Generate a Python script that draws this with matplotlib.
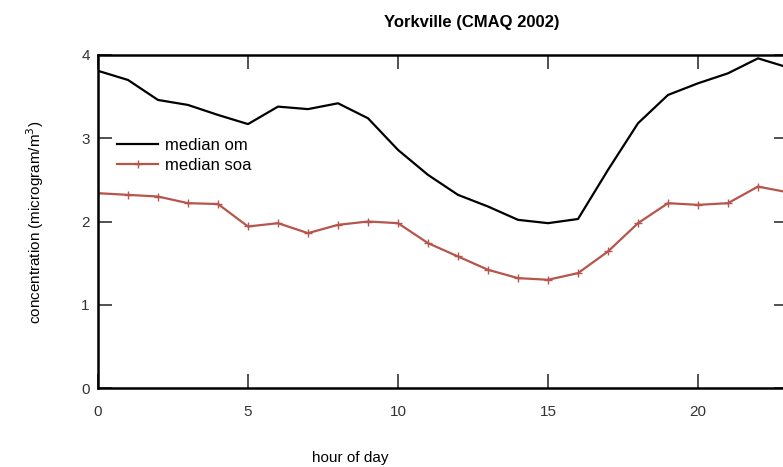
import matplotlib
matplotlib.use("Agg")
import matplotlib.pyplot as plt

# horas do dia e medianas
hours = list(range(24))
median_om = [3.81, 3.70, 3.46, 3.40, 3.28, 3.17, 3.38, 3.35, 3.42, 3.24,
             2.86, 2.56, 2.32, 2.18, 2.02, 1.98, 2.03, 2.62, 3.18, 3.52,
             3.66, 3.78, 3.96, 3.85]
median_soa = [2.34, 2.32, 2.30, 2.22, 2.21, 1.94, 1.98, 1.86, 1.96, 2.00,
              1.98, 1.74, 1.58, 1.42, 1.32, 1.30, 1.38, 1.64, 1.98, 2.22,
              2.20, 2.22, 2.42, 2.35]

x_ticks = [0, 5, 10, 15, 20]
y_ticks = [0, 1, 2, 3, 4]

plt.rcParams["font.family"] = ["Liberation Sans", "DejaVu Sans"]

fig = plt.figure(figsize=(7.83, 4.67), dpi=100)
ax = fig.add_axes([98 / 783, 79 / 467, 690 / 783, 333 / 467])

ax.plot(hours, median_om, color="black", linewidth=1.6, label="median om")
ax.plot(hours, median_soa, color="#b5554c", linewidth=1.6, marker="+",
        markersize=6, markeredgewidth=1.0, label="median soa")

ax.set_xlim(0, 23)
ax.set_ylim(0, 4)
ax.set_xticks(x_ticks)
ax.set_yticks(y_ticks)
ax.tick_params(direction="in", length=10, width=1.2, top=True, right=True,
               labelsize=11, colors="#333333")
ax.tick_params(axis="x", pad=12)
ax.tick_params(axis="y", pad=6)
for sp in ax.spines.values():
    sp.set_linewidth(1.8)

ax.legend(loc="upper left", bbox_to_anchor=(0.015, 0.775), frameon=False,
          fontsize=12, handlelength=2.5, handletextpad=0.4, borderpad=0,
          labelspacing=0.3)

fig.text(472 / 783, 1 - 22 / 467, "Yorkville (CMAQ 2002)", ha="center",
         va="center", fontsize=12, fontweight="bold")
fig.text(350 / 783, 1 - 458 / 467, "hour of day", ha="center", va="center",
         fontsize=11)
fig.text(35 / 783, 1 - 222 / 467, "concentration (microgram/m$^3$)",
         ha="center", va="center", rotation=90, fontsize=11)

fig.savefig("out.png", dpi=100)
